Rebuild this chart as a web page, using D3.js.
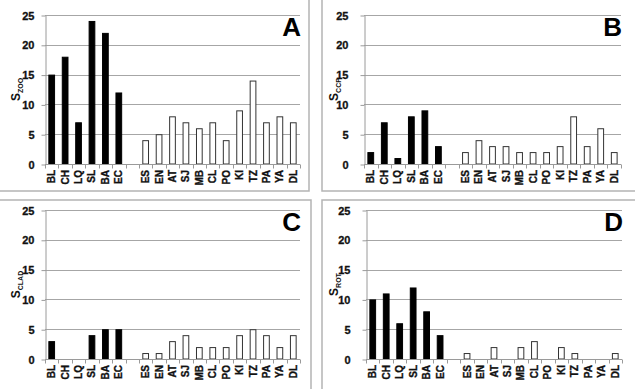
<!DOCTYPE html>
<html>
<head>
<meta charset="utf-8">
<script src="https://cdn.jsdelivr.net/npm/d3@7"></script>
<style>
  body { margin: 0; background: #fff; }
  svg { display: block; font-family: Arial, "Liberation Sans", sans-serif; }
</style>
</head>
<body>
<div class="chart"></div>
<script>
// categories: first six are the black group, "" is the empty slot between groups
const categories = ["BL", "CH", "LQ", "SL", "BA", "EC", "", "ES", "EN", "AT", "SJ", "MB", "CL", "PO", "KI", "TZ", "PA", "YA", "DL"];
const blackGroup = ["BL", "CH", "LQ", "SL", "BA", "EC"];
const yTicks = [0, 5, 10, 15, 20, 25];

const valuesA = [15, 18, 7, 24, 22, 12, null, 4, 5, 8, 7, 6, 7, 4, 9, 14, 7, 8, 7];
const valuesB = [2, 7, 1, 8, 9, 3, null, 2, 4, 3, 3, 2, 2, 2, 3, 8, 3, 6, 2];
const valuesC = [3, 0, 0, 4, 5, 5, null, 1, 1, 3, 4, 2, 2, 2, 4, 5, 4, 2, 4];
const valuesD = [10, 11, 6, 12, 8, 4, null, 1, 0, 2, 0, 2, 3, 0, 2, 1, 0, 0, 1];

const panelLetters = ["A", "B", "C", "D"];
const panelSubs = ["ZOO", "CCP", "CLAD", "ROT"];

const width = 635, height = 389;

const svg = d3.select(".chart").append("svg")
  .attr("width", width)
  .attr("height", height);

// panel frames (cropped boxes, only inner edges visible)
const frameColor = "#b4b4b4";
const frames = [
  [[0, 191], [309, 191], [309, 0]],
  [[322, 0], [322, 191], [635, 191]],
  [[0, 200], [311, 200], [311, 389]],
  [[322, 389], [322, 200], [635, 200]]
];
frames.forEach(pts => {
  svg.append("path")
    .attr("d", d3.line()(pts))
    .attr("fill", "none")
    .attr("stroke", frameColor)
    .attr("stroke-width", 1.5);
});

// plot areas for the four panels
const layout = [
  { x0: 45, x1: 300, top: 15, zero: 164, pad: 7, labelX: 20 },
  { x0: 364, x1: 621, top: 15, zero: 164, pad: 12, labelX: 338 },
  { x0: 45, x1: 300, top: 210, zero: 359, pad: 7, labelX: 20 },
  { x0: 366, x1: 622, top: 210, zero: 359, pad: 12, labelX: 338 }
];
const allValues = [valuesA, valuesB, valuesC, valuesD];

layout.forEach((p, i) => {
  const values = allValues[i];
  const g = svg.append("g");

  const x = d3.scaleBand()
    .domain(categories)
    .range([p.x0, p.x1])
    .paddingInner(0.5)
    .paddingOuter(0.25);

  const y = d3.scaleLinear()
    .domain([0, 25])
    .range([p.zero, p.top]);

  // gridlines
  g.append("g")
    .selectAll("line")
    .data(yTicks.filter(t => t > 0))
    .join("line")
    .attr("x1", p.x0)
    .attr("x2", p.x1)
    .attr("y1", d => Math.round(y(d)) + 0.5)
    .attr("y2", d => Math.round(y(d)) + 0.5)
    .attr("stroke", "#a6a6a6")
    .attr("stroke-width", 1);

  // y axis
  const yAxis = g.append("g")
    .attr("transform", `translate(${p.x0 + 0.5},0.5)`)
    .call(d3.axisLeft(y).tickValues(yTicks).tickSize(4).tickPadding(p.pad).tickSizeOuter(0));
  yAxis.select(".domain").attr("stroke", "#9a9a9a");
  yAxis.selectAll(".tick line").attr("stroke", "#9a9a9a");
  yAxis.selectAll(".tick text")
    .style("font-size", "11px")
    .style("font-weight", "bold")
    .style("font-family", "Arial, 'Liberation Sans', sans-serif")
    .attr("fill", "#111")
    .attr("stroke", "#111")
    .attr("stroke-width", 0.3);

  // bars
  const data = categories.map((c, k) => ({ cat: c, v: values[k] }))
    .filter(d => d.cat !== "" && d.v > 0);
  g.append("g")
    .selectAll("rect")
    .data(data)
    .join("rect")
    .attr("x", d => x(d.cat) + 0.5)
    .attr("y", d => y(d.v) + 0.5)
    .attr("width", x.bandwidth() - 1)
    .attr("height", d => y(0) - y(d.v) - 0.5)
    .attr("fill", d => blackGroup.includes(d.cat) ? "#000" : "#fff")
    .attr("stroke", d => blackGroup.includes(d.cat) ? "#000" : "#333")
    .attr("stroke-width", 1);

  // x axis line and boundary ticks
  const zy = Math.round(y(0)) + 0.5;
  g.append("line")
    .attr("x1", p.x0).attr("x2", p.x1)
    .attr("y1", zy).attr("y2", zy)
    .attr("stroke", "#9a9a9a");
  const bounds = d3.range(categories.length + 1).map(k => p.x0 + k * (p.x1 - p.x0) / categories.length);
  g.append("g")
    .selectAll("line")
    .data(bounds)
    .join("line")
    .attr("x1", d => Math.round(d) + 0.5)
    .attr("x2", d => Math.round(d) + 0.5)
    .attr("y1", zy)
    .attr("y2", zy + 4)
    .attr("stroke", "#9a9a9a");

  // category labels (rotated)
  g.append("g")
    .selectAll("text")
    .data(categories.filter(c => c !== ""))
    .join("text")
    .attr("transform", d => `translate(${x(d) + x.bandwidth() / 2 + 3.5},${p.zero + 6}) rotate(-90)`)
    .attr("text-anchor", "end")
    .style("font-size", "10px")
    .style("font-weight", "bold")
    .attr("fill", "#111")
    .attr("stroke", "#111")
    .attr("stroke-width", 0.35)
    .text(d => d);

  // y axis title S with subscript
  const title = g.append("text")
    .attr("transform", `translate(${p.labelX},${(p.top + p.zero) / 2}) rotate(-90)`)
    .attr("text-anchor", "middle")
    .style("font-size", "12px")
    .style("font-weight", "bold")
    .attr("fill", "#111");
  title.append("tspan").text("S");
  title.append("tspan")
    .attr("dy", 3)
    .style("font-size", "7px")
    .text(panelSubs[i]);

  // panel letter
  g.append("text")
    .attr("x", p.x1 + 1)
    .attr("y", p.top + 21)
    .attr("text-anchor", "end")
    .style("font-size", "26px")
    .style("font-weight", "bold")
    .attr("fill", "#000")
    .text(panelLetters[i]);
});
</script>
</body>
</html>
